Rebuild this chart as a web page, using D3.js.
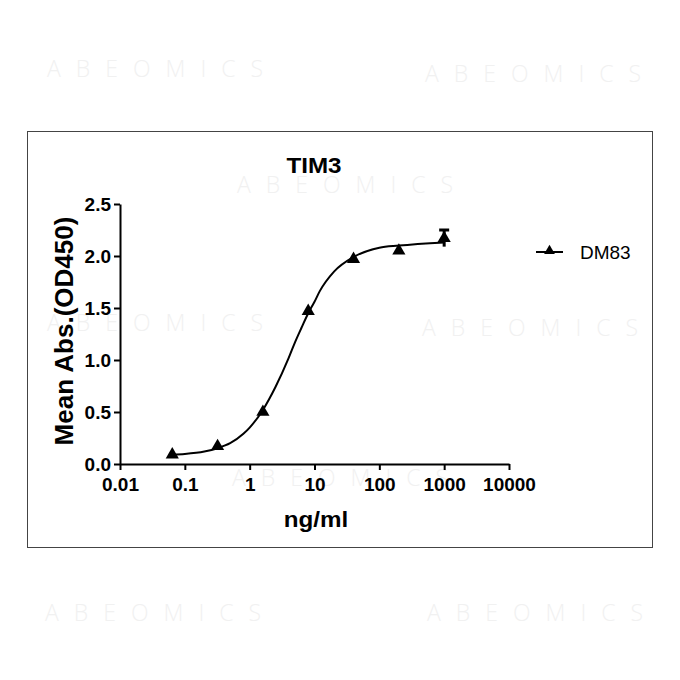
<!DOCTYPE html>
<html>
<head>
<meta charset="utf-8">
<script src="https://cdn.jsdelivr.net/npm/d3@7"></script>
<style>
  body { margin: 0; background: #fff; }
  text { font-family: "Liberation Sans", Arial, sans-serif; }
</style>
</head>
<body>
<div id="chart"></div>
<script>
// Data
var concentrations = [0.064, 0.32, 1.6, 8, 40, 200, 1000];
var meanAbs = [0.09, 0.17, 0.50, 1.47, 1.97, 2.05, 2.17];
var errAbs = [0, 0, 0, 0, 0, 0, 0.08];

// fitted curve
var curveX = [0.064, 0.1, 0.2, 0.32, 0.5, 0.8, 1, 1.6, 2.5, 4, 5, 6.3, 8, 10, 12, 20, 40, 100, 200, 1000];
var curveY = [0.09, 0.097, 0.12, 0.152, 0.20, 0.29, 0.35, 0.52, 0.74, 1.02, 1.17, 1.31, 1.45, 1.56, 1.66, 1.85, 1.99, 2.08, 2.10, 2.13];

var xTicks = [0.01, 0.1, 1, 10, 100, 1000, 10000];
var xTickLabels = ["0.01", "0.1", "1", "10", "100", "1000", "10000"];
var yTicks = [0, 0.5, 1.0, 1.5, 2.0, 2.5];
var yTickLabels = ["0.0", "0.5", "1.0", "1.5", "2.0", "2.5"];

var title = "TIM3";
var xTitle = "ng/ml";
var yTitle = "Mean Abs.(OD450)";
var seriesName = "DM83";
var watermark = "ABEOMICS";

var W = 680, H = 680;

var svg = d3.select("#chart")
  .append("svg")
    .attr("width", W)
    .attr("height", H);

// Faint watermarks
var marks = [[47, 77], [425, 82], [237, 193], [47, 331], [422, 336], [232, 486], [45, 621], [427, 621]];
svg.selectAll(".wm")
  .data(marks)
  .enter().append("text")
    .attr("class", "wm")
    .attr("x", function(d) { return d[0]; })
    .attr("y", function(d) { return d[1]; })
    .attr("textLength", 216)
    .attr("lengthAdjust", "spacing")
    .style("font-family", "'Open Sans', sans-serif")
    .style("font-weight", 300)
    .style("font-size", "23px")
    .style("fill", "#f1f1f1")
    .text(watermark);

// Frame
svg.append("rect")
  .attr("x", 27.5).attr("y", 131.5)
  .attr("width", 625).attr("height", 416)
  .attr("fill", "none")
  .attr("stroke", "#444")
  .attr("stroke-width", 1);

// Scales
var x = d3.scaleLog().domain([0.01, 10000]).range([120, 509]);
var y = d3.scaleLinear().domain([0, 2.5]).range([464, 204]);

// Y axis
var yAxis = svg.append("g")
  .attr("transform", "translate(120,0)")
  .call(d3.axisLeft(y)
    .tickValues(yTicks)
    .tickSize(6)
    .tickSizeOuter(0)
    .tickPadding(3)
    .tickFormat(function(d, i) { return yTickLabels[i]; }));

// X axis
var xAxis = svg.append("g")
  .attr("transform", "translate(0,464)")
  .call(d3.axisBottom(x)
    .tickValues(xTicks)
    .tickSize(6)
    .tickSizeOuter(0)
    .tickPadding(6)
    .tickFormat(function(d, i) { return xTickLabels[i]; }));

[xAxis, yAxis].forEach(function(a) {
  a.select(".domain").attr("stroke", "#000").attr("stroke-width", 2);
  a.selectAll(".tick line").attr("stroke", "#000").attr("stroke-width", 2);
  a.selectAll(".tick text")
    .attr("fill", "#000")
    .style("font-family", "'Liberation Sans', Arial, sans-serif")
    .style("font-weight", "bold")
    .style("font-size", "19px");
});
xAxis.selectAll(".tick text").attr("dy", "0.8em");
yAxis.selectAll(".tick text").attr("dy", "0.36em");

// Title
svg.append("text")
  .attr("transform", "translate(314,173) scale(1.1,1)")
  .style("text-anchor", "middle")
  .style("font-weight", "bold")
  .style("font-size", "22px")
  .text(title);

// Axis titles
svg.append("text")
  .attr("transform", "translate(316,527) scale(1.1,1)")
  .style("text-anchor", "middle")
  .style("font-weight", "bold")
  .style("font-size", "22px")
  .text(xTitle);

svg.append("text")
  .attr("transform", "translate(73,331) rotate(-90)")
  .style("text-anchor", "middle")
  .style("font-weight", "bold")
  .style("font-size", "26px")
  .text(yTitle);

// Fitted curve
var fit = curveX.map(function(d, i) { return {x: d, y: curveY[i]}; });
svg.append("path")
  .datum(fit)
  .attr("fill", "none")
  .attr("stroke", "#000")
  .attr("stroke-width", 2)
  .attr("d", d3.line()
    .curve(d3.curveMonotoneX)
    .x(function(d) { return x(d.x); })
    .y(function(d) { return y(d.y); }));

// Points and error bars
var pts = concentrations.map(function(d, i) { return {x: d, y: meanAbs[i], e: errAbs[i]}; });

var eb = svg.selectAll(".err")
  .data(pts.filter(function(d) { return d.e > 0; }))
  .enter().append("g").attr("class", "err");
eb.append("line")
  .attr("x1", function(d) { return x(d.x); })
  .attr("x2", function(d) { return x(d.x); })
  .attr("y1", function(d) { return y(d.y - d.e); })
  .attr("y2", function(d) { return y(d.y + d.e); })
  .attr("stroke", "#000").attr("stroke-width", 3);
eb.append("line")
  .attr("x1", function(d) { return x(d.x) - 5; })
  .attr("x2", function(d) { return x(d.x) + 5; })
  .attr("y1", function(d) { return y(d.y + d.e); })
  .attr("y2", function(d) { return y(d.y + d.e); })
  .attr("stroke", "#000").attr("stroke-width", 3);

var tri = d3.symbol().type(d3.symbolTriangle).size(75);
svg.selectAll(".pt")
  .data(pts)
  .enter().append("path")
    .attr("class", "pt")
    .attr("transform", function(d) { return "translate(" + x(d.x) + "," + y(d.y) + ")"; })
    .attr("d", tri)
    .attr("fill", "#000");

// Legend
var lg = svg.append("g").attr("transform", "translate(536,252)");
lg.append("line")
  .attr("x1", 0).attr("x2", 27).attr("y1", 0).attr("y2", 0)
  .attr("stroke", "#000").attr("stroke-width", 2);
lg.append("path")
  .attr("transform", "translate(13.5,-1)")
  .attr("d", d3.symbol().type(d3.symbolTriangle).size(50))
  .attr("fill", "#000");
lg.append("text")
  .attr("x", 44).attr("y", 7)
  .style("font-size", "19px")
  .text(seriesName);
</script>
</body>
</html>
